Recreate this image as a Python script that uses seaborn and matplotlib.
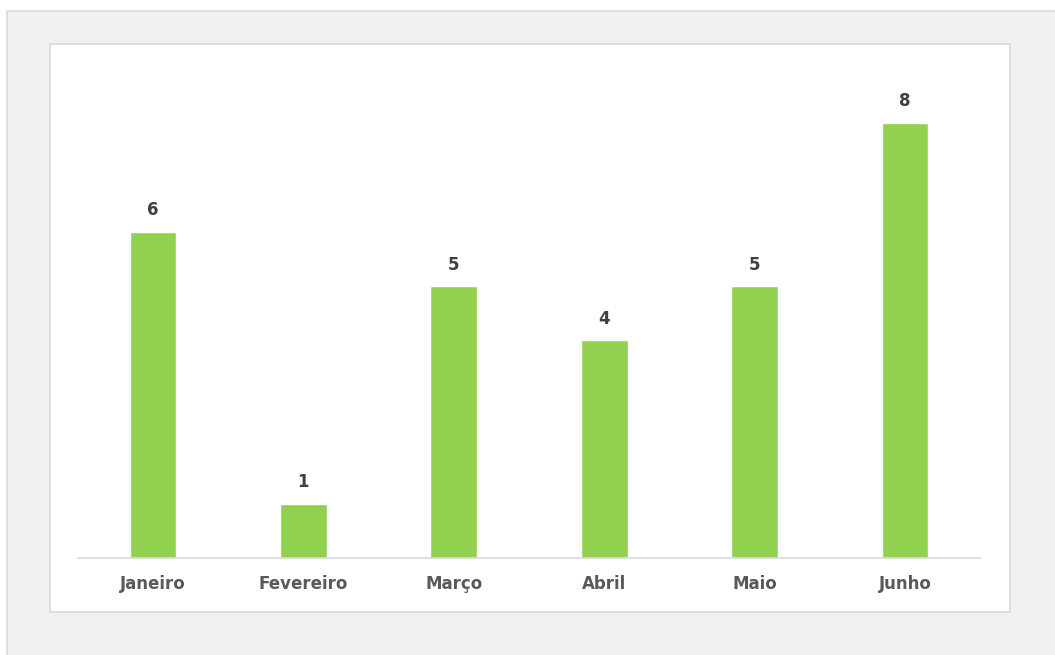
import matplotlib
matplotlib.use("Agg")
import matplotlib.pyplot as plt
from matplotlib.patches import Rectangle
import seaborn as sns
import pandas as pd

# Monthly counts
months = ["Janeiro", "Fevereiro", "Março", "Abril", "Maio", "Junho"]
counts = [6, 1, 5, 4, 5, 8]

df = pd.DataFrame({"mes": months, "valor": counts})

sns.set_theme(style="white")
plt.rcParams["font.family"] = ["DejaVu Sans"]

W, H = 1055, 655
fig = plt.figure(figsize=(W / 100, H / 100), dpi=100)
fig.patch.set_facecolor("white")

# Gray outer frame and white chart area (behind the axes)
fig.patches.append(Rectangle((7 / W, -1), 2, 2 - 11 / H, transform=fig.transFigure,
                             facecolor="#f0f0f0", edgecolor="#d9d9d9", linewidth=1.2,
                             zorder=-2))
fig.patches.append(Rectangle((49.5 / W, 1 - 612 / H), (1010 - 49.5) / W, (612 - 44) / H,
                             transform=fig.transFigure, facecolor="white",
                             edgecolor="#d9d9d9", linewidth=1.2, zorder=-1))

ax = fig.add_axes([77.8 / W, 1 - 558 / H, (980.2 - 77.8) / W, (558 - 68.6) / H])
ax.set_facecolor("none")

sns.barplot(data=df, x="mes", y="valor", color="#92d050", saturation=1,
            width=0.31, ax=ax)

ax.set_xlim(-0.5, len(months) - 0.5)
ax.set_ylim(0, 9)
ax.set_xlabel("")
ax.set_ylabel("")
ax.set_yticks([])
for side in ["top", "left", "right"]:
    ax.spines[side].set_visible(False)
ax.spines["bottom"].set_color("#d9d9d9")
ax.spines["bottom"].set_linewidth(1.2)
ax.tick_params(axis="x", length=0, pad=12, labelsize=12, labelcolor="#595959")
for lbl in ax.get_xticklabels():
    lbl.set_fontweight("bold")

for cont in ax.containers:
    ax.bar_label(cont, labels=[str(v) for v in counts], padding=9,
                 fontsize=12, fontweight="bold", color="#404040")

fig.savefig("out.png", dpi=100, facecolor=fig.get_facecolor())
